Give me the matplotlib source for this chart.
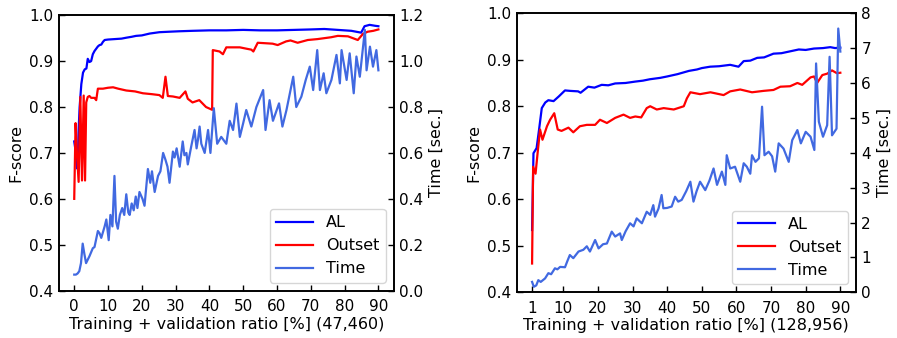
import matplotlib
matplotlib.use("Agg")
import matplotlib.pyplot as plt

# ---------------- Left panel data (47,460) ----------------
left_al_x = [0, 0.5, 1.0, 1.3, 1.6, 2.1, 2.6, 3.1, 3.6, 4.0, 4.5, 5.0, 5.5, 6.0, 7.0, 7.5, 8.0, 8.5, 9.0,
             10, 12, 14, 15.4, 17, 18.3, 20, 22.3, 25.2, 28, 31, 35, 40, 45, 50, 55, 60, 65, 70, 74,
             78, 82, 84.9, 85.9, 87.4, 89, 90]
left_al_y = [0.725, 0.70, 0.665, 0.75, 0.80, 0.85, 0.875, 0.882, 0.884, 0.905, 0.898, 0.90, 0.915, 0.922,
             0.932, 0.935, 0.936, 0.942, 0.946, 0.947, 0.948, 0.949, 0.951, 0.953, 0.955, 0.956, 0.960,
             0.963, 0.964, 0.965, 0.966, 0.967, 0.967, 0.968, 0.967, 0.967, 0.968, 0.969, 0.970, 0.968,
             0.966, 0.962, 0.976, 0.979, 0.977, 0.976]

left_out_x = [0, 0.4, 0.8, 1.3, 1.8, 2.3, 2.8, 3.2, 3.55, 4.0, 4.5, 5.0, 6.0, 6.5, 7.0, 8.5, 10, 11.5, 13,
              15.4, 18, 20.3, 23, 25.2, 26.2, 27, 27.7, 29.2, 31.2, 32.9, 33.6, 35, 37, 39, 40.8, 41.0,
              43, 44, 45, 49, 51, 52.4, 53, 54.3, 58.7, 60.2, 62.7, 64, 66.1, 69.1, 72, 74, 76, 78, 81,
              83.9, 85.4, 86.8, 88.5, 90]
left_out_y = [0.60, 0.765, 0.70, 0.637, 0.822, 0.64, 0.825, 0.64, 0.81, 0.822, 0.824, 0.82, 0.82, 0.815,
              0.84, 0.84, 0.842, 0.843, 0.84, 0.836, 0.834, 0.83, 0.828, 0.826, 0.82, 0.866, 0.824, 0.823,
              0.82, 0.834, 0.818, 0.81, 0.815, 0.80, 0.794, 0.924, 0.921, 0.915, 0.93, 0.93, 0.927, 0.925,
              0.921, 0.94, 0.938, 0.935, 0.943, 0.945, 0.94, 0.946, 0.948, 0.95, 0.952, 0.955, 0.954,
              0.946, 0.959, 0.964, 0.966, 0.969]

left_time_x = [0, 0.5, 1, 1.5, 2, 2.5, 3, 3.5, 4.5, 5.5, 6, 7, 7.5, 8, 9, 9.5, 10.2, 10.7, 11.3, 11.9,
               12.4, 12.9, 13.5, 14.2, 14.8, 15.4, 16, 16.4, 17, 17.6, 18.2, 18.7, 19.3, 20.2, 20.8, 21.8,
               22.5, 23, 23.8, 24.8, 25.5, 26.3, 27, 27.6, 28.2, 29.2, 29.7, 30.3, 31.2, 32.1, 32.6, 33.2,
               33.6, 34.6, 35.6, 36.2, 36.6, 37.1, 37.6, 38.6, 39.6, 40.3, 41.3, 42.3, 43.5, 45, 46, 47,
               48, 49, 50, 50.9, 52.4, 53.9, 55.9, 56.6, 57.8, 58.8, 60.6, 61.6, 62.8, 64.8, 65.7, 67.2,
               68.5, 69.7, 70.7, 71.9, 72.7, 73.8, 74.6, 76.1, 77.6, 78.6, 79.1, 80.6, 81.5, 82.7, 83.5,
               84.5, 86, 86.5, 87.5, 88.4, 89.4, 90]
left_time_y = [0.07, 0.07, 0.075, 0.085, 0.12, 0.205, 0.16, 0.12, 0.15, 0.185, 0.19, 0.26, 0.25, 0.23,
               0.28, 0.31, 0.22, 0.33, 0.28, 0.50, 0.30, 0.27, 0.33, 0.36, 0.33, 0.42, 0.34, 0.33, 0.38,
               0.35, 0.41, 0.36, 0.43, 0.40, 0.37, 0.53, 0.47, 0.52, 0.43, 0.50, 0.52, 0.60, 0.57, 0.54,
               0.47, 0.606, 0.58, 0.62, 0.54, 0.65, 0.59, 0.60, 0.55, 0.627, 0.70, 0.62, 0.656, 0.715,
               0.64, 0.60, 0.70, 0.60, 0.795, 0.64, 0.67, 0.64, 0.74, 0.70, 0.815, 0.67, 0.73, 0.787,
               0.715, 0.80, 0.874, 0.70, 0.83, 0.74, 0.816, 0.715, 0.787, 0.932, 0.80, 0.845, 0.918,
               0.976, 0.874, 1.048, 0.874, 0.947, 0.86, 0.918, 1.027, 0.903, 1.048, 0.918, 1.034, 0.86,
               1.02, 0.932, 1.136, 0.96, 1.063, 0.976, 1.048, 0.96]

# ---------------- Right panel data (128,956) ----------------
right_al_x = [1, 1.4, 2.3, 3.0, 3.8, 4.8, 5.7, 7.2, 8.7, 10.5, 12, 14.3, 15, 17.2, 19, 21.1, 23, 25,
              28, 30.8, 33, 35, 38, 40, 43, 46.3, 48.6, 50, 52.4, 55, 58.2, 60.6, 62.1, 64, 66, 68,
              70.7, 73, 75.5, 78, 80, 82.4, 85, 87.1, 88.5, 90]
right_al_y = [0.534, 0.699, 0.71, 0.749, 0.796, 0.808, 0.813, 0.811, 0.821, 0.834, 0.833, 0.832, 0.829,
              0.842, 0.840, 0.846, 0.845, 0.849, 0.850, 0.853, 0.855, 0.858, 0.861, 0.864, 0.869, 0.876,
              0.879, 0.882, 0.885, 0.886, 0.889, 0.885, 0.897, 0.898, 0.904, 0.905, 0.913, 0.914, 0.918,
              0.922, 0.921, 0.924, 0.925, 0.927, 0.925, 0.926]

right_out_x = [1, 1.3, 2.0, 2.6, 3.3, 4.0, 5.3, 6.2, 7.4, 8.4, 9.5, 11.5, 12.9, 14.8, 16.8, 19.2, 20.6,
               22.6, 25, 27.4, 29.3, 30.8, 32.5, 34.1, 35.1, 37, 39, 41.9, 44.8, 45.7, 46.7, 49.5, 52.5,
               56.3, 58.2, 61.1, 64.5, 67.8, 70.7, 72.7, 75.5, 77.6, 79, 81.4, 82.4, 83.3, 84.8, 86.2,
               87.6, 89, 90]
right_out_y = [0.462, 0.67, 0.655, 0.70, 0.75, 0.728, 0.757, 0.771, 0.785, 0.75, 0.747, 0.754, 0.744,
               0.757, 0.76, 0.76, 0.771, 0.764, 0.775, 0.782, 0.775, 0.778, 0.776, 0.796, 0.80, 0.793,
               0.796, 0.793, 0.80, 0.817, 0.83, 0.826, 0.83, 0.824, 0.832, 0.836, 0.83, 0.833, 0.835,
               0.842, 0.843, 0.85, 0.846, 0.862, 0.864, 0.85, 0.867, 0.87, 0.877, 0.871, 0.872]

right_time_x = [1, 1.5, 2.2, 2.8, 3.5, 4.75, 5.7, 6.5, 7.6, 8.3, 9.1, 10.5, 11.2, 11.9, 12.9, 14.4,
                15.8, 16.8, 17.7, 19.2, 20.2, 21.5, 22.6, 24, 25, 26.4, 26.9, 28, 29.3, 30.3, 31.2,
                32.7, 34.1, 35.1, 36, 36.5, 37.5, 38.4, 38.9, 40, 41.3, 42.3, 43.2, 44.2, 45.5, 46.7,
                47.6, 48.5, 49.5, 51, 52.2, 53.4, 54.4, 55.8, 56.8, 57.2, 58.2, 59.6, 61.1, 62.1, 63,
                64, 64.5, 65.5, 66.5, 67.4, 68.1, 69.3, 70.3, 71.2, 72.2, 73.6, 75.1, 76.1, 77.6, 78.6,
                80, 81.4, 82.5, 83.0, 83.8, 85, 86.2, 86.9, 87.6, 88.9, 89.4, 90]
right_time_y = [0.30, 0.16, 0.2, 0.35, 0.30, 0.40, 0.55, 0.52, 0.69, 0.66, 0.73, 0.72, 0.90, 1.07, 0.98,
                1.17, 1.22, 1.32, 1.17, 1.50, 1.26, 1.38, 1.40, 1.74, 1.60, 1.69, 1.50, 1.75, 1.98, 1.89,
                2.12, 1.98, 2.31, 2.22, 2.5, 2.17, 2.4, 2.79, 2.41, 2.42, 2.46, 2.74, 2.60, 2.65, 2.9,
                3.17, 2.6, 2.9, 3.17, 2.93, 3.2, 3.55, 3.08, 3.46, 3.08, 3.93, 3.55, 3.6, 3.17, 3.7, 3.6,
                3.4, 3.93, 3.74, 3.84, 5.32, 3.93, 4.03, 3.9, 3.46, 4.27, 4.12, 3.74, 4.36, 4.65, 4.27,
                4.6, 4.46, 4.08, 6.56, 4.89, 4.46, 4.79, 6.75, 4.5, 4.69, 7.56, 6.9]

left_xticks = [0, 10, 20, 30, 40, 50, 60, 70, 80, 90]
right_xticks = [1, 10, 20, 30, 40, 50, 60, 70, 80, 90]
fscore_ticks = [0.4, 0.5, 0.6, 0.7, 0.8, 0.9, 1.0]
left_time_ticks = [0.0, 0.2, 0.4, 0.6, 0.8, 1.0, 1.2]
right_time_ticks = [0, 1, 2, 3, 4, 5, 6, 7, 8]

TICK_FS = 11
LABEL_FS = 11.5
plt.rcParams['font.family'] = ['DejaVu Sans']
plt.rcParams['font.size'] = TICK_FS

fig = plt.figure(figsize=(8.97, 3.38), dpi=100)

def panel(rect, al_x, al_y, out_x, out_y, t_x, t_y, xticks, tticks, tlim, xlabel, tfmt):
    ax = fig.add_axes(rect)
    ax2 = ax.twinx()
    l1, = ax.plot(al_x, al_y, color='blue', lw=1.6, label='AL')
    l2, = ax.plot(out_x, out_y, color='red', lw=1.6, label='Outset')
    l3, = ax2.plot(t_x, t_y, color='royalblue', lw=1.6, label='Time')
    ax.set_ylim(0.4, 1.0)
    ax.set_yticks(fscore_ticks)
    ax.set_yticklabels(['%.1f' % v for v in fscore_ticks])
    ax.set_xticks(xticks)
    ax2.set_ylim(*tlim)
    ax2.set_yticks(tticks)
    ax2.set_yticklabels([tfmt % v for v in tticks])
    ax.set_xlabel(xlabel, fontsize=LABEL_FS, labelpad=2)
    ax.set_ylabel('F-score', fontsize=LABEL_FS)
    ax2.set_ylabel('Time [sec.]', fontsize=LABEL_FS)
    for a in (ax, ax2):
        a.tick_params(direction='in', length=4, width=1, labelsize=TICK_FS, pad=4)
        for s in a.spines.values():
            s.set_linewidth(1.2)
    ax.tick_params(axis='x', pad=6)
    ax2.legend([l1, l2, l3], ['AL', 'Outset', 'Time'], loc='lower right',
               fontsize=LABEL_FS, handlelength=2.3)
    return ax

panel([0.0658, 0.140, 0.373, 0.815], left_al_x, left_al_y, left_out_x, left_out_y,
      left_time_x, left_time_y, left_xticks, left_time_ticks, (0, 1.2),
      'Training + validation ratio [%] (47,460)', '%.1f')
panel([0.576, 0.135, 0.378, 0.826], right_al_x, right_al_y, right_out_x, right_out_y,
      right_time_x, right_time_y, right_xticks, right_time_ticks, (0, 8),
      'Training + validation ratio [%] (128,956)', '%d')

fig.savefig('out.png', dpi=100)
